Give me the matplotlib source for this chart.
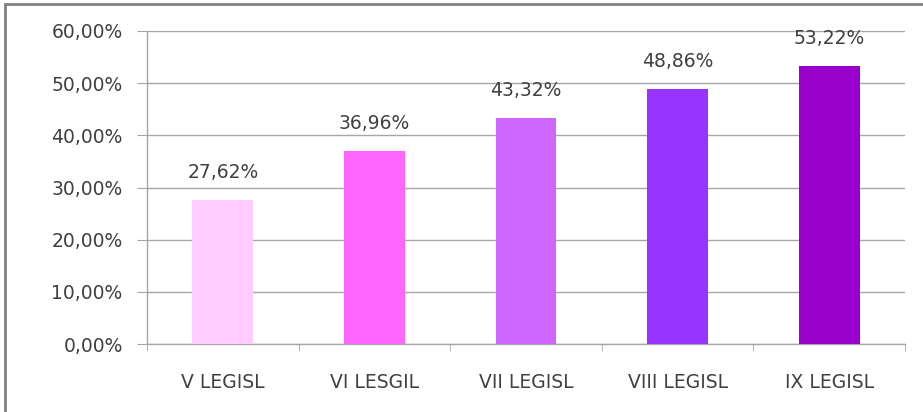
import matplotlib
matplotlib.use("Agg")
import matplotlib.pyplot as plt
from matplotlib.patches import Rectangle

categories = ["V LEGISL", "VI LESGIL", "VII LEGISL", "VIII LEGISL", "IX LEGISL"]
values = [27.62, 36.96, 43.32, 48.86, 53.22]
colors = ["#FFCCFF", "#FF66FF", "#CC66FF", "#9933FF", "#9900CC"]
yticks = [0, 10, 20, 30, 40, 50, 60]

plt.rcParams['font.family'] = ['DejaVu Sans']
text_color = "#404040"
grid_color = "#A6A6A6"

fig = plt.figure(figsize=(9.23, 4.12), dpi=100)
ax = fig.add_axes([147 / 923, 1 - 344 / 412, (905 - 147) / 923, (344 - 31) / 412])

x = range(len(categories))
ax.bar(x, values, width=0.4, color=colors, zorder=3)
for i, v in enumerate(values):
    ax.text(i, v + 3.5, f"{v:.2f}%".replace(".", ","), ha="center", va="bottom",
            fontsize=13.5, color=text_color)

ax.set_ylim(0, 60)
ax.set_xlim(-0.5, len(categories) - 0.5)
ax.set_yticks(yticks)
ax.set_yticklabels([f"{t:.2f}%".replace(".", ",") for t in yticks], fontsize=13.5, color=text_color)
ax.set_xticks(list(x))
ax.set_xticklabels(categories, fontsize=13.5, color=text_color)
ax.tick_params(axis="x", length=0, pad=21)
ax.tick_params(axis="y", length=7.5, color=grid_color, pad=10)
ax.set_xticks([i - 0.5 for i in range(len(categories) + 1)], minor=True)
ax.tick_params(axis="x", which="minor", length=5, color=grid_color, direction="out")

ax.yaxis.grid(True, color=grid_color, linewidth=1, zorder=0)
for s in ["top", "right"]:
    ax.spines[s].set_visible(False)
for s in ["left", "bottom"]:
    ax.spines[s].set_color(grid_color)
    ax.spines[s].set_linewidth(1)

# outer chart border
fig.patches.append(Rectangle((5 / 923, -0.1), 1.1, (412 - 4) / 412 + 0.1,
                             transform=fig.transFigure, fill=False,
                             edgecolor="#808080", linewidth=2))

fig.savefig("out.png", dpi=100)
